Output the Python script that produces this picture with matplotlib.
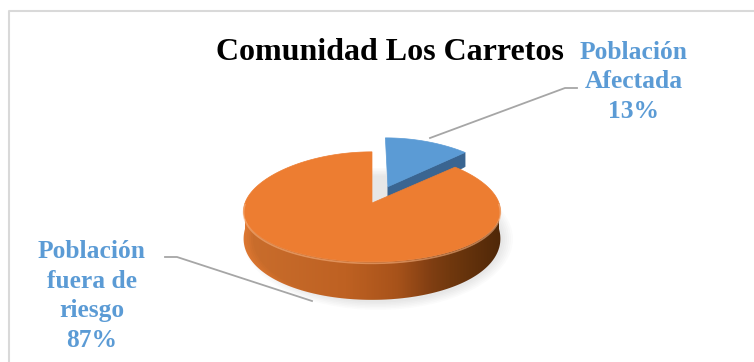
import numpy as np
import matplotlib
matplotlib.use('Agg')
import matplotlib.pyplot as plt
from matplotlib.patches import Polygon, Ellipse
from matplotlib.colors import LinearSegmentedColormap

title = "Comunidad Los Carretos"
labels = ["Población\nAfectada", "Población\nfuera de\nriesgo"]
values = [13, 87]
explode = [0.33, 0.0]
top_colors = ["#5B9BD5", "#ED7D31"]
side_colors = ["#3A6591", "#E27A33"]
label_color = "#5B9BD5"

# pie geometry in pixel space (y grows downward)
cx, cy = 372, 203
rx, ry = 127, 55
p, q = 0.15, 0.07      # perspective: back narrower / flatter
dc, dr = 26, 12        # body depth at centre, extra depth toward the front

side_cmap = LinearSegmentedColormap.from_list(
    "side", [(0.0, "#E27A33"), (0.4, "#D66D28"), (0.6, "#B85E20"),
             (0.8, "#7C3E14"), (1.0, "#5A2D0E")])


def proj(u, v, z=0):
    s = 1 - p * v
    x = cx + rx * u * s
    y = cy - ry * v * (1 - q * v) + z * (dc - dr * v)
    return (x, y)


def rim(theta, off, z=0):
    t = np.radians(theta)
    return proj(np.sin(t) + off[0], np.cos(t) + off[1], z)


fig = plt.figure(figsize=(7.54, 3.62), dpi=100)
ax = fig.add_axes([0, 0, 1, 1])
ax.set_xlim(0, 754)
ax.set_ylim(362, 0)
ax.axis('off')

# chart frame
ax.plot([9, 9, 754], [362, 11, 11], color="#D9D9D9", lw=1.5, solid_capstyle='butt')

# soft shadow
for k in range(6):
    ax.add_patch(Ellipse((cx + 6, cy + dc + 10), 2 * rx + 16 - k * 4, 2 * (ry + dr) + 8 - k * 3,
                         color="#000000", alpha=0.016, lw=0))

total = sum(values)
bounds = np.concatenate([[0], np.cumsum(values)]) / total * 360
mids = (bounds[:-1] + bounds[1:]) / 2
offsets = [(e * np.sin(np.radians(m)), e * np.cos(np.radians(m))) for e, m in zip(explode, mids)]

for i in range(len(values)):
    a0, a1 = bounds[i], bounds[i + 1]
    off = offsets[i]
    # cut face at end angle (visible when it lies in the back half)
    if np.cos(np.radians(a1)) > 0 and a1 < 360:
        face = [proj(off[0], off[1]), rim(a1, off), rim(a1, off, 1), proj(off[0], off[1], 1)]
        ax.add_patch(Polygon(face, closed=True, fc=side_colors[i], ec=side_colors[i], lw=0.5))
    # front outer wall with left-to-right shading
    lo, hi = max(a0, 90), min(a1, 270)
    if hi > lo:
        th = np.linspace(lo, hi, 200)
        top_arc = [rim(t, off) for t in th]
        bot_arc = [rim(t, off, 1) for t in th[::-1]]
        wall = Polygon(top_arc + bot_arc, closed=True, fc='none', ec='none')
        ax.add_patch(wall)
        xs = np.array([pt[0] for pt in top_arc])
        x0, x1 = xs.min(), xs.max()
        grad = np.linspace(0, 1, 256)[None, :]
        im = ax.imshow(grad, cmap=side_cmap, aspect='auto', interpolation='bilinear',
                       extent=[x0 - 2, x1 + 2, cy + dc + ry + dr + 40, cy - 10])
        im.set_clip_path(wall)
        hl = np.array(top_arc)
        ax.plot(hl[:, 0], hl[:, 1] + 1.5, color="#F6B07E", lw=1.2, alpha=0.6)
    # top face
    th = np.linspace(a0, a1, 200)
    poly = [proj(off[0], off[1])] + [rim(t, off) for t in th]
    ax.add_patch(Polygon(poly, closed=True, fc=top_colors[i], ec=top_colors[i], lw=0.5))

ax.set_xlim(0, 754)
ax.set_ylim(362, 0)

# title
ax.text(390, 52, title, ha='center', va='center', fontsize=23, fontweight='bold',
        family='Liberation Serif', color='black')

# data labels with leader lines
lab_font = dict(fontsize=18.4, fontweight='bold', family='Liberation Serif', color=label_color,
                ha='center', va='center', linespacing=1.38)
ax.text(634, 82, f"{labels[0]}\n{values[0]}%", **lab_font)
ax.text(92, 296, f"{labels[1]}\n{values[1]}%", **lab_font)

ax.plot([430, 565, 577], [138, 88, 88], color="#A6A6A6", lw=1.3)
ax.plot([165, 177, 312], [257, 257, 301], color="#A6A6A6", lw=1.3)

fig.savefig("out.png", dpi=100)
